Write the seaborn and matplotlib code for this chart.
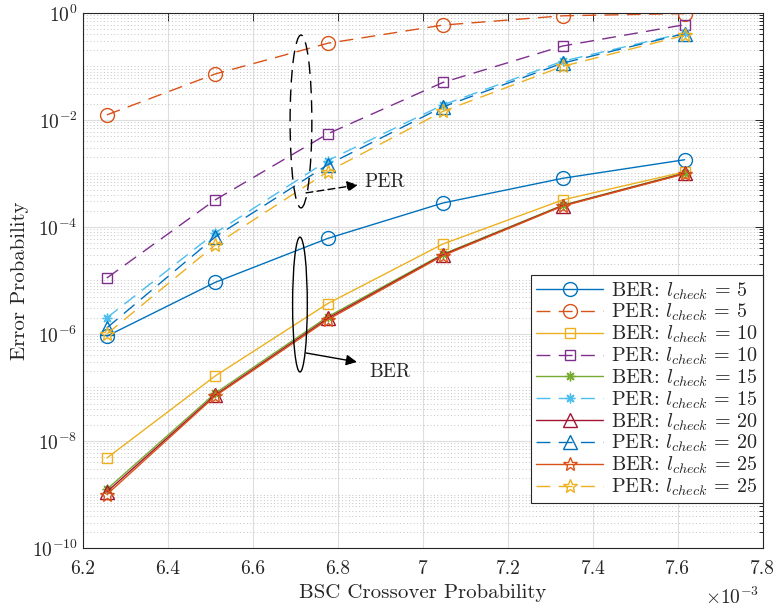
import numpy as np
import pandas as pd
import matplotlib
matplotlib.use('Agg')
import matplotlib.pyplot as plt
import matplotlib.ticker as mticker
from matplotlib.patches import Ellipse
import seaborn as sns

# 样式: 白底, LaTeX 风格字体
sns.set_style("white")
plt.rcParams['font.family'] = 'serif'
plt.rcParams['font.serif'] = ['cmr10', 'DejaVu Serif']
plt.rcParams['mathtext.fontset'] = 'cm'
plt.rcParams['axes.formatter.use_mathtext'] = True
plt.rcParams['axes.unicode_minus'] = False

# 数据 (x 单位: 1e-3)
crossover = [6.256, 6.511, 6.776, 7.047, 7.329, 7.616]
ber_5 = [9.1e-7, 9.2e-6, 6.1e-5, 2.8e-4, 8.1e-4, 1.8e-3]
per_5 = [1.24e-2, 7.2e-2, 0.27, 0.59, 0.88, 0.97]
ber_10 = [4.8e-9, 1.64e-7, 3.7e-6, 4.8e-5, 3.2e-4, 1.07e-3]
per_10 = [1.11e-5, 3.2e-4, 5.5e-3, 5.0e-2, 0.24, 0.6]
ber_15 = [1.25e-9, 7.8e-8, 2.1e-6, 3.1e-5, 2.55e-4, 1.02e-3]
per_15 = [2.0e-6, 7.7e-5, 1.74e-3, 1.9e-2, 0.125, 0.42]
ber_20 = [1.12e-9, 7.2e-8, 1.96e-6, 3.0e-5, 2.5e-4, 1.0e-3]
per_20 = [1.3e-6, 6.5e-5, 1.45e-3, 1.75e-2, 0.115, 0.41]
ber_25 = [1.0e-9, 6.9e-8, 1.85e-6, 2.9e-5, 2.45e-4, 0.98e-3]
per_25 = [1.0e-6, 4.6e-5, 1.08e-3, 1.44e-2, 0.1, 0.38]

series = [
    ('BER', 5, ber_5, '#0072BD', 'o', 10),
    ('PER', 5, per_5, '#D95319', 'o', 10),
    ('BER', 10, ber_10, '#EDB120', 's', 7.8),
    ('PER', 10, per_10, '#7E2F8E', 's', 7.8),
    ('BER', 15, ber_15, '#77AC30', (8, 2, 0), 7),
    ('PER', 15, per_15, '#4DBEEE', (8, 2, 0), 7),
    ('BER', 20, ber_20, '#A2142F', '^', 9.5),
    ('PER', 20, per_20, '#0072BD', '^', 9.5),
    ('BER', 25, ber_25, '#D95319', '*', 10.5),
    ('PER', 25, per_25, '#EDB120', '*', 10.5),
]

fig = plt.figure(figsize=(7.76, 6.11), dpi=100)
ax = fig.add_axes([0.107, 0.103, 0.876, 0.876])

for kind, l, vals, color, marker, ms in series:
    df = pd.DataFrame({'x': np.array(crossover) * 1e-3, 'y': vals})
    ls = '-' if kind == 'BER' else (0, (10, 6))
    sns.lineplot(data=df, x='x', y='y', ax=ax, color=color, lw=1.0,
                 linestyle=ls, marker=marker, markersize=ms,
                 markerfacecolor='none', markeredgecolor=color,
                 markeredgewidth=1.0,
                 label=kind + r': $l_{check}$ = ' + str(l), legend=False)

ax.set_yscale('log')
ax.set_xlim(6.2e-3, 7.8e-3)
ax.set_ylim(1e-10, 1)

# 坐标轴刻度
ax.set_xticks(np.arange(6.2, 7.81, 0.2) * 1e-3)
ax.xaxis.set_major_formatter(mticker.FuncFormatter(lambda v, p: f'{v * 1e3:g}'))
ax.set_yticks([1e-10, 1e-8, 1e-6, 1e-4, 1e-2, 1])
ax.yaxis.set_major_formatter(mticker.LogFormatterSciNotation())
ax.yaxis.set_minor_locator(mticker.LogLocator(base=10, subs=np.arange(1, 10), numticks=100))
ax.yaxis.set_minor_formatter(mticker.NullFormatter())
ax.tick_params(axis='both', which='both', direction='in', top=True, right=True,
               labelsize=14, color='#262626', width=0.7)
ax.tick_params(axis='x', which='major', length=6, pad=9)
ax.tick_params(axis='y', which='major', length=6, pad=4)
ax.tick_params(axis='y', which='minor', length=3)

ax.grid(True, which='major', color='#dedede', lw=0.8, ls='-')
ax.grid(True, which='minor', axis='y', color='#c4c4c4', lw=0.7, ls=(0, (1, 2.5)))
ax.set_axisbelow(True)
for s in ax.spines.values():
    s.set_color('#262626')
    s.set_linewidth(0.8)

ax.set_xlabel('BSC Crossover Probability', fontsize=15, labelpad=4)
ax.set_ylabel('Error Probability', fontsize=15, labelpad=2)
fig.text(0.979, 0.023, r'$\times 10^{-3}$', ha='right', va='center', fontsize=14)

# 标注: 椭圆 + 箭头
ax.add_patch(Ellipse((0.3206, 0.797), 0.032, 0.323, transform=ax.transAxes,
                     fill=False, ec='black', lw=1.0, ls=(0, (9, 5)), zorder=5))
ax.add_patch(Ellipse((0.3191, 0.455), 0.0216, 0.252, transform=ax.transAxes,
                     fill=False, ec='black', lw=1.0, zorder=5))
ax.annotate('', xy=(0.4044, 0.6785), xytext=(0.328, 0.6636), xycoords='axes fraction',
            arrowprops=dict(arrowstyle='-|>', lw=1.0, ls=(0, (5, 3)), color='black',
                            mutation_scale=16, shrinkA=0, shrinkB=0))
ax.annotate('', xy=(0.4029, 0.3477), xytext=(0.328, 0.3645), xycoords='axes fraction',
            arrowprops=dict(arrowstyle='-|>', lw=1.0, color='black',
                            mutation_scale=16, shrinkA=0, shrinkB=0))
ax.text(0.4132, 0.684, 'PER', transform=ax.transAxes, fontsize=14, va='center', ha='left')
ax.text(0.4206, 0.329, 'BER', transform=ax.transAxes, fontsize=14, va='center', ha='left')

leg = ax.legend(loc='lower right', bbox_to_anchor=(1.0, 0.084), borderaxespad=0,
                fontsize=14.5, handlelength=3.3, labelspacing=0.02, frameon=True,
                fancybox=False, framealpha=1, edgecolor='#262626', borderpad=0.25,
                handletextpad=0.4)
leg.get_frame().set_linewidth(0.8)

plt.savefig('out.png', dpi=100)
plt.close()
